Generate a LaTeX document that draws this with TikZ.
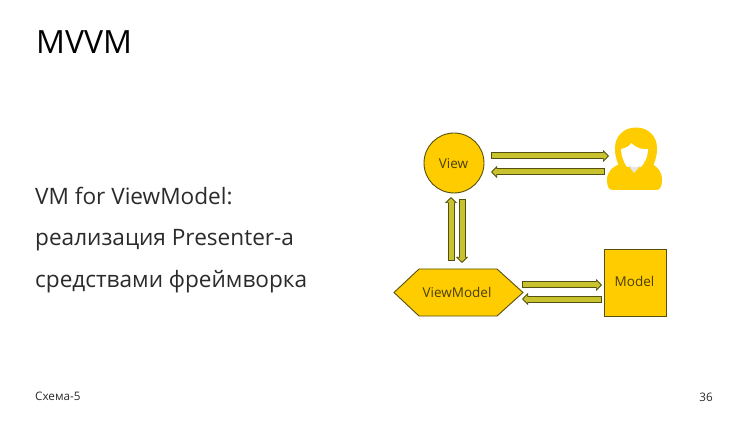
\documentclass[tikz,border=0pt]{standalone}
\usepackage{fontspec}
\setmainfont{Open Sans}
\usetikzlibrary{arrows.meta}
\definecolor{yel}{HTML}{FFCC00}
\definecolor{olivefill}{HTML}{C8C22E}
\definecolor{edge}{HTML}{55500F}
\definecolor{ink}{HTML}{2B2B2B}
\definecolor{lbl}{HTML}{4A3F05}
\tikzset{
  x=1pt,y=-1pt,
  shapebox/.style={fill=yel,draw=edge,line width=0.9pt,inner sep=0pt},
  diaglabel/.style={font=\fontsize{13.5}{15}\selectfont,text=lbl},
  bodytext/.style={anchor=base west,font=\fontsize{22.6}{26}\selectfont,text=ink,inner sep=0pt},
  smalltext/.style={anchor=base,font=\fontsize{11.7}{13}\selectfont,text=ink,inner sep=0pt},
  arrowouter/.style={draw=edge,line width=7pt,-{Triangle[length=6pt,width=12pt,fill=edge]},shorten >=0pt},
  arrowinner/.style={draw=olivefill,line width=5pt,-{Triangle[length=4pt,width=8pt,fill=olivefill]},shorten >=1.4pt,shorten <=1pt},
}
\newcommand{\blockarrow}[2]{%
  \draw[arrowouter] (#1) -- (#2);
  \draw[arrowinner] (#1) -- (#2);
}
\begin{document}
\begin{tikzpicture}
\useasboundingbox (0,0) rectangle (750,422);
\fill[white] (0,0) rectangle (750,422);
\node[anchor=base west,inner sep=0pt,font=\fontsize{32}{36}\selectfont,text=black] (title) at (36,54) {MVVM};
\node[bodytext] (l1) at (35,204.5) {VM for ViewModel:};
\node[bodytext] (l2) at (35,246) {реализация Presenter-а};
\node[bodytext] (l3) at (35,287.5) {средствами фреймворка};
\node[smalltext,anchor=base west] (sch) at (35,400) {Схема-5};
\node[smalltext,anchor=base east] (num) at (713,401.5) {36};

\node[shapebox,circle,minimum size=60pt] (view) at (454,163) {};
\node[diaglabel] (viewl) at (453.5,164) {View};
\draw[shapebox] (394,292.5) -- (419,269) -- (497,269) -- (523,292.5) -- (497,316) -- (419,316) -- cycle;
\node[diaglabel] (vm) at (457,292.5) {ViewModel};
\node[shapebox,minimum width=62pt,minimum height=67pt] (model) at (635,282.5) {};
\node[diaglabel] (modell) at (634.5,281) {Model};

% person
\fill[yel] (620,168) .. controls (616,160) and (615,155) .. (615,148)
  .. controls (615,136) and (624,127.5) .. (636,127.5)
  .. controls (648,127.5) and (657,136) .. (657,148)
  .. controls (657,155) and (656,160) .. (652,168) -- cycle;
\fill[yel] (620,164) -- (652,164) .. controls (658,167) and (662,172) .. (662,180)
  .. controls (662,187) and (660,190) .. (656,190) -- (613,190)
  .. controls (609,190) and (607,187) .. (607,180)
  .. controls (607,172) and (612,167) .. (620,164) -- cycle;
\fill[white] (621,149) .. controls (626,148) and (630,146) .. (631,143)
  .. controls (636,148) and (643,150) .. (648,149)
  .. controls (648,157) and (644,164) .. (641,167) -- (627,167)
  .. controls (624,163) and (621,156) .. (621,149) -- cycle;
\fill[gray!20] (628,165) .. controls (632,168) and (637,168) .. (641,165) -- (634,173) -- cycle;

\coordinate (a1) at (491,156);  \coordinate (b1) at (609,156);
\coordinate (a2) at (605,172);  \coordinate (b2) at (491,172);
\coordinate (a3) at (451,261);  \coordinate (b3) at (451,197);
\coordinate (a4) at (462,199);  \coordinate (b4) at (462,263);
\coordinate (a5) at (522,285);  \coordinate (b5) at (602,285);
\coordinate (a6) at (602,299);  \coordinate (b6) at (522,299);
\blockarrow{a1}{b1}
\blockarrow{a2}{b2}
\blockarrow{a3}{b3}
\blockarrow{a4}{b4}
\blockarrow{a5}{b5}
\blockarrow{a6}{b6}
\end{tikzpicture}
\end{document}
